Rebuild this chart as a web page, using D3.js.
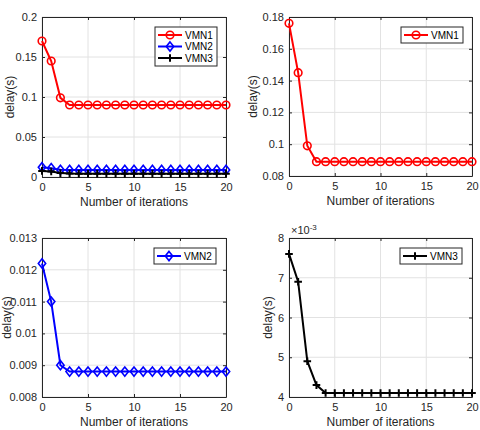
<!DOCTYPE html>
<html>
<head>
<meta charset="utf-8">
<script src="https://cdn.jsdelivr.net/npm/d3@7"></script>
<style>
  html, body { margin: 0; padding: 0; background: #fff; }
  svg { display: block; font-family: "Liberation Sans", Arial, sans-serif; }
  .tick text { fill: #262626; font-size: 11px; }
  .label { fill: #262626; font-size: 12px; }
  .legend text { fill: #000; font-size: 10px; }
</style>
</head>
<body>
<svg id="chart" width="480" height="430"></svg>
<script>
const iterations = [0, 1, 2, 3, 4, 5, 6, 7, 8, 9, 10, 11, 12, 13, 14, 15, 16, 17, 18, 19, 20];

// VMN1 as read in the combined plot
const vmn1Overview = [0.170, 0.145, 0.099, 0.090, 0.090, 0.090, 0.090, 0.090, 0.090, 0.090, 0.090,
  0.090, 0.090, 0.090, 0.090, 0.090, 0.090, 0.090, 0.090, 0.090, 0.090];
const vmn1 = [0.176, 0.145, 0.099, 0.089, 0.089, 0.089, 0.089, 0.089, 0.089, 0.089, 0.089,
  0.089, 0.089, 0.089, 0.089, 0.089, 0.089, 0.089, 0.089, 0.089, 0.089];
const vmn2 = [0.0122, 0.0110, 0.0090, 0.0088, 0.0088, 0.0088, 0.0088, 0.0088, 0.0088, 0.0088, 0.0088,
  0.0088, 0.0088, 0.0088, 0.0088, 0.0088, 0.0088, 0.0088, 0.0088, 0.0088, 0.0088];
const vmn3 = [0.0076, 0.0069, 0.0049, 0.0043, 0.0041, 0.0041, 0.0041, 0.0041, 0.0041, 0.0041, 0.0041,
  0.0041, 0.0041, 0.0041, 0.0041, 0.0041, 0.0041, 0.0041, 0.0041, 0.0041, 0.0041];

const xTicks = [0, 5, 10, 15, 20];
const yTicks1 = [0, 0.05, 0.1, 0.15, 0.2];
const yTicks2 = [0.08, 0.1, 0.12, 0.14, 0.16, 0.18];
const yTicks3 = [0.008, 0.009, 0.01, 0.011, 0.012, 0.013];
const yTicks4 = [0.004, 0.005, 0.006, 0.007, 0.008];

const svg = d3.select("#chart");

const styles = {
  VMN1: { color: "#ff0000", marker: "circle" },
  VMN2: { color: "#0000ff", marker: "diamond" },
  VMN3: { color: "#000000", marker: "plus" },
};

function drawMarker(g, kind, color, x, y) {
  if (kind === "circle") {
    g.append("circle").attr("cx", x).attr("cy", y).attr("r", 3.8)
      .attr("fill", "none").attr("stroke", color).attr("stroke-width", 1.6);
  } else if (kind === "diamond") {
    const s = 4.6;
    g.append("path")
      .attr("d", `M${x},${y - s}L${x + s * 0.8},${y}L${x},${y + s}L${x - s * 0.8},${y}Z`)
      .attr("fill", "none").attr("stroke", color).attr("stroke-width", 1.6);
  } else {
    const s = 3.8;
    g.append("path")
      .attr("d", `M${x - s},${y}H${x + s}M${x},${y - s}V${y + s}`)
      .attr("stroke", color).attr("stroke-width", 2);
  }
}

function panel(opts) {
  const { left, top, width, height, yDomain, yTicks, yFormat, series, yLabelX, legendRight } = opts;
  const g = svg.append("g").attr("transform", `translate(${left},${top})`);

  const x = d3.scaleLinear().domain([0, 20]).range([0, width]);
  const y = d3.scaleLinear().domain(yDomain).range([height, 0]);

  // grid
  const grid = g.append("g");
  for (const t of xTicks) {
    grid.append("line").attr("x1", x(t)).attr("x2", x(t)).attr("y1", 0).attr("y2", height)
      .attr("stroke", "#e2e2e2").attr("stroke-width", 1);
  }
  for (const t of yTicks) {
    grid.append("line").attr("x1", 0).attr("x2", width).attr("y1", y(t)).attr("y2", y(t))
      .attr("stroke", "#e2e2e2").attr("stroke-width", 1);
  }

  // axes, ticks inside like matlab
  const xa = g.append("g").attr("transform", `translate(0,${height})`)
    .call(d3.axisBottom(x).tickValues(xTicks).tickSizeInner(-3).tickSizeOuter(0).tickPadding(6));
  g.append("g")
    .call(d3.axisLeft(y).tickValues(yTicks).tickFormat(yFormat).tickSizeInner(-3).tickSizeOuter(0).tickPadding(5));
  g.append("g").call(d3.axisTop(x).tickValues(xTicks).tickSizeInner(-3).tickSizeOuter(0).tickFormat(""));
  g.append("g").attr("transform", `translate(${width},0)`)
    .call(d3.axisRight(y).tickValues(yTicks).tickSizeInner(-3).tickSizeOuter(0).tickFormat(""));
  g.selectAll(".domain").attr("stroke", "#262626");
  g.selectAll(".tick line").attr("stroke", "#262626");
  xa.selectAll("text").attr("dy", "0.71em");

  // labels
  g.append("text").attr("class", "label")
    .attr("x", width / 2).attr("y", height + 29).attr("text-anchor", "middle")
    .text("Number of iterations");
  g.append("text").attr("class", "label")
    .attr("transform", `translate(${yLabelX},${height / 2}) rotate(-90)`)
    .attr("text-anchor", "middle").text("delay(s)");

  // series
  const line = d3.line().x((d, i) => x(iterations[i])).y((d) => y(d));
  for (const s of series) {
    const st = styles[s.name];
    g.append("path").datum(s.values).attr("d", line)
      .attr("fill", "none").attr("stroke", st.color).attr("stroke-width", 2);
    const mg = g.append("g");
    s.values.forEach((v, i) => drawMarker(mg, st.marker, st.color, x(iterations[i]), y(v)));
  }

  // legend
  const lw = 62, rowH = 11.5;
  const lh = 4.5 + series.length * rowH;
  const lx = width - legendRight - lw, ly = 10;
  const lg = g.append("g").attr("class", "legend").attr("transform", `translate(${lx},${ly})`);
  lg.append("rect").attr("width", lw).attr("height", lh)
    .attr("fill", "#fff").attr("stroke", "#262626").attr("stroke-width", 1);
  series.forEach((s, i) => {
    const st = styles[s.name];
    const cy = 8 + i * rowH;
    lg.append("line").attr("x1", 3).attr("x2", 27).attr("y1", cy).attr("y2", cy)
      .attr("stroke", st.color).attr("stroke-width", 2);
    drawMarker(lg, st.marker, st.color, 15, cy);
    lg.append("text").attr("x", 30).attr("y", cy).attr("dy", "0.35em").text(s.name);
  });

  return g;
}

panel({
  left: 42, top: 17, width: 184, height: 160,
  yDomain: [0, 0.2], yTicks: yTicks1, yFormat: d3.format("~g"),
  series: [
    { name: "VMN1", values: vmn1Overview },
    { name: "VMN2", values: vmn2 },
    { name: "VMN3", values: vmn3 },
  ],
  yLabelX: -28, legendRight: 9,
});

panel({
  left: 289, top: 17, width: 183, height: 159,
  yDomain: [0.08, 0.18], yTicks: yTicks2, yFormat: d3.format("~g"),
  series: [{ name: "VMN1", values: vmn1 }],
  yLabelX: -32, legendRight: 9,
});

panel({
  left: 42, top: 238, width: 184, height: 159,
  yDomain: [0.008, 0.013], yTicks: yTicks3, yFormat: d3.format(".3~f"),
  series: [{ name: "VMN2", values: vmn2 }],
  yLabelX: -31, legendRight: 10,
});

const p4 = panel({
  left: 289, top: 238, width: 183, height: 159,
  yDomain: [0.004, 0.008], yTicks: yTicks4, yFormat: (d) => d3.format("~g")(d * 1000),
  series: [{ name: "VMN3", values: vmn3 }],
  yLabelX: -17, legendRight: 10,
});

const exp = p4.append("text").attr("class", "label").attr("x", 2).attr("y", -4)
  .style("font-size", "11px");
exp.append("tspan").text("\u00d710");
exp.append("tspan").attr("dy", -4).style("font-size", "8px").text("-3");
</script>
</body>
</html>
